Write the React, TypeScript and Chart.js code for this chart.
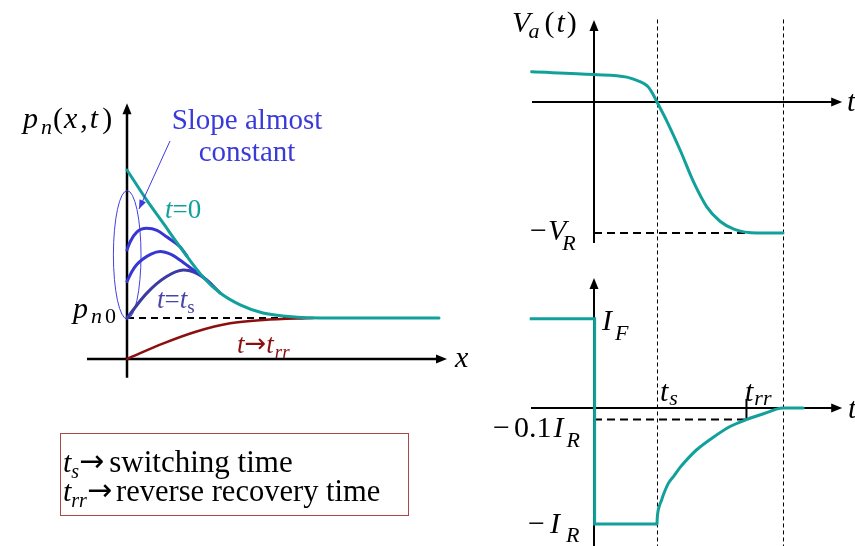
import React, { useEffect, useRef } from "react";
import { Chart, registerables } from "chart.js";

Chart.register(...registerables);

// ---------- Left panel: hole profile p_n(x,t)  (x in units of L_p, p in units of p_n0) ----------
const xT0 = [0, 0.49, 0.9, 1.33, 1.9, 2.33, 2.83, 3.4, 4.25, 4.83, 7.8];
const pT0 = [4.61, 3.88, 3.32, 2.73, 2.0, 1.61, 1.32, 1.12, 1.02, 1.0, 1.0];
const xT1 = [0, 0.08, 0.25, 0.49, 0.75, 0.99, 1.33, 1.5];
const pT1 = [2.66, 2.86, 3.1, 3.19, 3.14, 2.98, 2.73, 2.51];
const xT2 = [0, 0.12, 0.24, 0.4, 0.6, 0.83, 1.1, 1.33, 1.66, 1.9, 2.1];
const pT2 = [1.89, 2.13, 2.3, 2.44, 2.56, 2.62, 2.55, 2.41, 2.17, 2.0, 1.83];
const xTs = [0, 0.49, 0.99, 1.41, 1.74, 1.99, 2.33];
const pTs = [1.0, 1.6, 2.01, 2.17, 2.09, 1.93, 1.61];
const xTrr = [0, 0.91, 1.74, 2.58, 3.41, 4.65];
const pTrr = [0, 0.38, 0.67, 0.87, 0.95, 1.0];
const pn0 = 1;
const pn0DashEnd = 4.75;

// ---------- Right top: V_a(t)  (t in units of t_s, V in units of V_R) ----------
const tVa = [-0.99, 0, 0.52, 0.73, 0.81, 0.87, 0.93, 1.0, 1.15, 1.37, 1.58, 1.79, 2.0, 2.22, 2.59, 3.0];
const vVa = [0.23, 0.21, 0.19, 0.155, 0.135, 0.11, 0.065, 0, -0.14, -0.37, -0.61, -0.8, -0.91, -0.97, -1.0, -1.0];
const vR = -1;

// ---------- Right bottom: I(t)  (I in units of I_R) ----------
const tStep = [-1.02, 0.01, 0.01, 1.0];
const iStep = [0.77, 0.77, -1, -1];
const tRec = [1.0, 1.005, 1.02, 1.04, 1.075, 1.1, 1.18, 1.27, 1.37, 1.5, 1.63, 1.9, 2.16, 2.42, 2.69, 3.0, 3.32];
const iRec = [-1, -0.94, -0.88, -0.84, -0.79, -0.75, -0.65, -0.585, -0.51, -0.43, -0.36, -0.25, -0.16, -0.1, -0.05, 0, 0];
const tS = 1;
const tRR = 2.42;
const tOff = 3.0;
const iTenth = -0.1;

const TEAL = "#12a09b";
const BLUE = "#3636d2";
const DBLUE = "#3b3ba2";
const RED = "#8c0f0f";
const FONT = '"Liberation Serif", "Times New Roman", serif';
const ARROWFONT = '"DejaVu Sans", sans-serif';

type Run = { s: string; it?: boolean; sz?: number; dy?: number; dx?: number; f?: string };
type Label = { sx: string; sy: string; x: number; y: number; color: string; align?: string; runs: Run[] };

const zip = (xs: number[], ys: number[]) => xs.map((x, i) => ({ x, y: ys[i] }));

const labels: Label[] = [
  { sx: "xL", sy: "yL", x: -2.6, y: 5.634, color: "#000", runs: [
    { s: "p", it: true, sz: 30 }, { s: "n", it: true, sz: 22, dy: 6, dx: 3 },
    { s: "(", sz: 30, dx: 1 }, { s: "x", it: true, sz: 30, dx: 1 }, { s: ",", sz: 30, dx: 3 },
    { s: "t", it: true, sz: 30, dx: 2 }, { s: ")", sz: 30, dx: 4 } ] },
  { sx: "xL", sy: "yL", x: -1.35, y: 1.0, color: "#000", runs: [
    { s: "p", it: true, sz: 30 }, { s: "n", it: true, sz: 22, dy: 5, dx: 3 }, { s: "0", sz: 22, dy: 5, dx: 3 } ] },
  { sx: "xL", sy: "yL", x: 3.0, y: 5.61, color: "#3a3ad8", align: "center", runs: [{ s: "Slope almost", sz: 29 }] },
  { sx: "xL", sy: "yL", x: 3.0, y: 4.83, color: "#3a3ad8", align: "center", runs: [{ s: "constant", sz: 29 }] },
  { sx: "xL", sy: "yL", x: 0.95, y: 3.44, color: TEAL, runs: [{ s: "t", it: true, sz: 27 }, { s: "=0", sz: 27 }] },
  { sx: "xL", sy: "yL", x: 0.75, y: 1.244, color: "#4646a8", runs: [
    { s: "t", it: true, sz: 27 }, { s: "=", sz: 27 }, { s: "t", it: true, sz: 27 }, { s: "s", sz: 19, dy: 5 } ] },
  { sx: "xL", sy: "yL", x: 2.75, y: 0.146, color: RED, runs: [
    { s: "t", it: true, sz: 27 }, { s: "\u2192", sz: 26, f: ARROWFONT, dy: -1 }, { s: "t", it: true, sz: 27 },
    { s: "rr", it: true, sz: 19, dy: 5, dx: 1 } ] },
  { sx: "xL", sy: "yL", x: 8.2, y: -0.195, color: "#000", runs: [{ s: "x", it: true, sz: 30 }] },
  // right top
  { sx: "xR", sy: "yV", x: -1.3, y: 0.534, color: "#000", runs: [
    { s: "V", it: true, sz: 30 }, { s: "a", it: true, sz: 22, dy: 6, dx: -2 },
    { s: "(", sz: 30, dx: 5 }, { s: "t", it: true, sz: 30, dx: 2 }, { s: ")", sz: 30, dx: 2 } ] },
  { sx: "xR", sy: "yV", x: 4.016, y: -0.069, color: "#000", runs: [{ s: "t", it: true, sz: 30 }] },
  { sx: "xR", sy: "yV", x: -1.016, y: -1.053, color: "#000", runs: [
    { s: "\u2212", sz: 30 }, { s: "V", it: true, sz: 30, dx: 1 }, { s: "R", it: true, sz: 22, dy: 10, dx: -4 } ] },
  // right bottom
  { sx: "xR", sy: "yI", x: 0.127, y: 0.672, color: "#000", runs: [
    { s: "I", it: true, sz: 30 }, { s: "F", it: true, sz: 22, dy: 10, dx: 3 } ] },
  { sx: "xR", sy: "yI", x: 1.048, y: 0.06, color: "#000", runs: [
    { s: "t", it: true, sz: 30 }, { s: "s", it: true, sz: 22, dy: 4, dx: 1 } ] },
  { sx: "xR", sy: "yI", x: 2.397, y: 0.06, color: "#000", runs: [
    { s: "t", it: true, sz: 30 }, { s: "rr", it: true, sz: 22, dy: 4, dx: 1 } ] },
  { sx: "xR", sy: "yI", x: 4.032, y: -0.086, color: "#000", runs: [{ s: "t", it: true, sz: 30 }] },
  { sx: "xR", sy: "yI", x: -1.603, y: -0.25, color: "#000", runs: [
    { s: "\u2212", sz: 30 }, { s: "0.1", sz: 30, dx: 4 }, { s: "I", it: true, sz: 30, dx: 2 },
    { s: "R", it: true, sz: 22, dy: 10, dx: 3 } ] },
  { sx: "xR", sy: "yI", x: -1.048, y: -1.078, color: "#000", runs: [
    { s: "\u2212", sz: 30 }, { s: "I", it: true, sz: 30, dx: 5 }, { s: "R", it: true, sz: 22, dy: 9, dx: 6 } ] },
  // definitions box
  { sx: "xL", sy: "yL", x: -1.6, y: -2.76, color: "#000", runs: [
    { s: "t", it: true, sz: 30 }, { s: "s", it: true, sz: 20, dy: 6, dx: 0 },
    { s: "\u2192", sz: 30, f: ARROWFONT, dy: -1, dx: 0 }, { s: "switching time", sz: 31, dx: 5 } ] },
  { sx: "xL", sy: "yL", x: -1.6, y: -3.47, color: "#000", runs: [
    { s: "t", it: true, sz: 30 }, { s: "rr", it: true, sz: 20, dy: 6, dx: 0 },
    { s: "\u2192", sz: 30, f: ARROWFONT, dy: -1, dx: 0 }, { s: "reverse recovery time", sz: 30.5, dx: 4 } ] },
];

const fontOf = (r: Run) => `${r.it ? "italic " : ""}${r.sz || 30}px ${r.f || FONT}`;

function drawRuns(ctx: CanvasRenderingContext2D, x: number, y: number, list: Run[], color: string, align?: string) {
  ctx.fillStyle = color;
  ctx.textAlign = "left";
  ctx.textBaseline = "alphabetic";
  let w = 0;
  for (const r of list) {
    ctx.font = fontOf(r);
    w += (r.dx || 0) + ctx.measureText(r.s).width;
  }
  let cx = align === "center" ? x - w / 2 : x;
  for (const r of list) {
    ctx.font = fontOf(r);
    cx += r.dx || 0;
    ctx.fillText(r.s, cx, y + (r.dy || 0));
    cx += ctx.measureText(r.s).width;
  }
}

function arrowHead(ctx: CanvasRenderingContext2D, x1: number, y1: number, x2: number, y2: number, len: number, half: number) {
  const a = Math.atan2(y2 - y1, x2 - x1);
  ctx.beginPath();
  ctx.moveTo(x2, y2);
  ctx.lineTo(x2 - len * Math.cos(a) + half * Math.sin(a), y2 - len * Math.sin(a) - half * Math.cos(a));
  ctx.lineTo(x2 - len * Math.cos(a) - half * Math.sin(a), y2 - len * Math.sin(a) + half * Math.cos(a));
  ctx.closePath();
  ctx.fill();
}

const diagramPlugin = {
  id: "diagram",
  beforeDatasetsDraw(chart: any) {
    const ctx: CanvasRenderingContext2D = chart.ctx;
    const S = chart.scales;
    const X = (id: string, v: number) => S[id].getPixelForValue(v);
    const line = (sx: string, sy: string, x1: number, y1: number, x2: number, y2: number, w: number, dash: number[], color = "#000", arrow = false) => {
      const a = X(sx, x1), b = X(sy, y1), c = X(sx, x2), d = X(sy, y2);
      ctx.save();
      ctx.strokeStyle = color;
      ctx.fillStyle = color;
      ctx.lineWidth = w;
      ctx.setLineDash(dash);
      ctx.beginPath();
      ctx.moveTo(a, b);
      if (arrow) {
        const ang = Math.atan2(d - b, c - a);
        ctx.lineTo(c - 8 * Math.cos(ang), d - 8 * Math.sin(ang));
      } else ctx.lineTo(c, d);
      ctx.stroke();
      ctx.setLineDash([]);
      if (arrow) arrowHead(ctx, a, b, c, d, 11, 4.5);
      ctx.restore();
    };
    // dashed reference lines
    line("xL", "yL", 0, pn0, pn0DashEnd, pn0, 2, [7, 5]);
    line("xR", "yV", 0, vR, tOff, vR, 2, [8, 5]);
    line("xR", "yI", 0, iTenth, tRR, iTenth, 2, [8, 5]);
    for (const tv of [tS, tOff]) {
      ctx.save();
      ctx.strokeStyle = "#000";
      ctx.lineWidth = 1;
      ctx.setLineDash([4, 3]);
      ctx.beginPath();
      ctx.moveTo(X("xR", tv) + 0.5, X("yV", 0.63));
      ctx.lineTo(X("xR", tv) + 0.5, chart.chartArea.bottom);
      ctx.stroke();
      ctx.restore();
    }
    // axes
    line("xL", "yL", 0, -0.46, 0, 6.24, 2.5, [], "#000", true);
    line("xL", "yL", -1.0, 0, 8.0, 0, 2.5, [], "#000", true);
    line("xR", "yV", 0, -1.076, 0, 0.626, 2, [], "#000", true);
    line("xR", "yV", -0.984, 0, 3.94, 0, 2, [], "#000", true);
    line("xR", "yI", 0, -1.19, 0, 1.121, 2, [], "#000", true);
    line("xR", "yI", -1.0, 0, 3.94, 0, 2, [], "#000", true);
    // t_rr tick
    line("xR", "yI", tRR, 0.078, tRR, iTenth, 2, []);
    // ellipse around the initial slopes
    ctx.save();
    ctx.strokeStyle = "#4040e0";
    ctx.lineWidth = 1;
    ctx.beginPath();
    const cx = X("xL", 0.005), cy = X("yL", 2.54);
    const rx = Math.abs(X("xL", 0.345) - X("xL", 0));
    const ry = Math.abs(X("yL", 1.566) - X("yL", 0));
    ctx.ellipse(cx, cy, rx, ry, 0, 0, Math.PI * 2);
    ctx.stroke();
    ctx.restore();
  },
  afterDatasetsDraw(chart: any) {
    const ctx: CanvasRenderingContext2D = chart.ctx;
    const S = chart.scales;
    const X = (id: string, v: number) => S[id].getPixelForValue(v);
    // "slope almost constant" pointer
    ctx.save();
    ctx.strokeStyle = "#3c3ce0";
    ctx.fillStyle = "#3c3ce0";
    ctx.lineWidth = 1;
    const a = X("xL", 1.075), b = X("yL", 5.317), c = X("xL", 0.3), d = X("yL", 3.659);
    ctx.beginPath();
    ctx.moveTo(a, b);
    ctx.lineTo(c, d);
    ctx.stroke();
    arrowHead(ctx, a, b, c, d, 9, 3.5);
    ctx.restore();
    // definitions box
    ctx.save();
    ctx.strokeStyle = "#a84848";
    ctx.lineWidth = 1;
    const l = X("xL", -1.6625), r = X("xL", 7.025), t = X("yL", -1.793), bt = X("yL", -3.805);
    ctx.strokeRect(Math.round(l) + 0.5, Math.round(t) + 0.5, Math.round(r - l), Math.round(bt - t));
    ctx.restore();
    for (const lb of labels) {
      drawRuns(ctx, X(lb.sx, lb.x), X(lb.sy, lb.y), lb.runs, lb.color, lb.align);
    }
  },
};

export default function App() {
  const ref = useRef<HTMLCanvasElement | null>(null);
  useEffect(() => {
    const canvas = ref.current;
    if (!canvas) return;
    const base = { pointRadius: 0, fill: false, borderCapStyle: "round" as const };
    const chart = new Chart(canvas, {
      type: "line",
      data: {
        datasets: [
          { ...base, data: zip(xT0, pT0), xAxisID: "xL", yAxisID: "yL", borderColor: TEAL, borderWidth: 3, cubicInterpolationMode: "monotone" },
          { ...base, data: zip(xT1, pT1), xAxisID: "xL", yAxisID: "yL", borderColor: BLUE, borderWidth: 3, cubicInterpolationMode: "monotone" },
          { ...base, data: zip(xT2, pT2), xAxisID: "xL", yAxisID: "yL", borderColor: BLUE, borderWidth: 3, cubicInterpolationMode: "monotone" },
          { ...base, data: zip(xTs, pTs), xAxisID: "xL", yAxisID: "yL", borderColor: DBLUE, borderWidth: 3, cubicInterpolationMode: "monotone" },
          { ...base, data: zip(xTrr, pTrr), xAxisID: "xL", yAxisID: "yL", borderColor: RED, borderWidth: 2.5, cubicInterpolationMode: "monotone" },
          { ...base, data: zip(tVa, vVa), xAxisID: "xR", yAxisID: "yV", borderColor: TEAL, borderWidth: 3, cubicInterpolationMode: "monotone" },
          { ...base, data: zip(tStep, iStep), xAxisID: "xR", yAxisID: "yI", borderColor: TEAL, borderWidth: 3, tension: 0, borderCapStyle: "butt" },
          { ...base, data: zip(tRec, iRec), xAxisID: "xR", yAxisID: "yI", borderColor: TEAL, borderWidth: 3, cubicInterpolationMode: "monotone" },
        ] as any,
      },
      options: {
        animation: false,
        responsive: false,
        devicePixelRatio: 1,
        events: [],
        layout: { padding: 0 },
        plugins: { legend: { display: false }, tooltip: { enabled: false }, title: { display: false } },
        scales: {
          xL: { type: "linear", display: false, min: -3.175, max: 18.2 },
          yL: { type: "linear", display: false, min: -4.561, max: 8.756 },
          xR: { type: "linear", display: false, min: -9.4286, max: 4.1429 },
          yV: { type: "linear", display: false, min: -3.389, max: 0.7786 },
          yI: { type: "linear", display: false, min: -1.1897, max: 3.517 },
        },
      } as any,
      plugins: [diagramPlugin as any],
    });
    return () => chart.destroy();
  }, []);
  return (
    <div style={{ position: "absolute", left: 0, top: 0, width: 855, height: 546, background: "#fff" }}>
      <canvas ref={ref} width={855} height={546} style={{ display: "block", width: 855, height: 546 }} />
    </div>
  );
}
